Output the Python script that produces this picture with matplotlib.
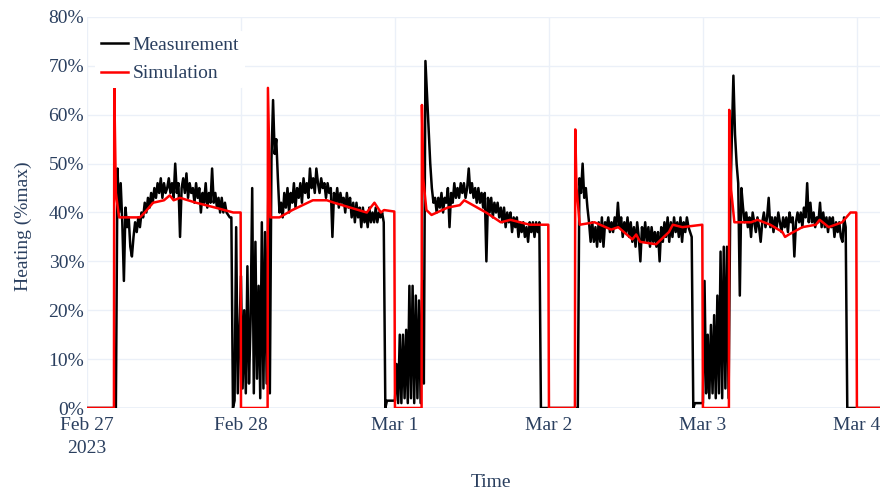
import pandas as pd
import matplotlib.pyplot as plt

# Measured heating (% of max), 15-minute samples, one list per day
meas_feb27 = [0, 0, 0, 0, 0, 0, 0, 0, 0, 0, 0, 0, 0, 0, 0, 0, 0, 0, 0,
              49, 40, 46, 38, 26, 41, 37, 39, 33, 31, 35, 38, 36, 39, 37, 40, 39, 42, 40, 43,
              41, 44, 42, 45, 43, 46, 44, 47, 43, 46, 44, 45, 47, 44, 46, 43, 50, 44, 46, 35,
              45, 47, 44, 48, 43, 46, 44, 45, 42, 46, 43, 45, 40, 44, 42, 46, 41, 44, 42, 49,
              42, 44, 41, 43, 40, 43, 40, 42, 40, 39.5, 39, 39, 0, 1.5, 37, 3]
meas_feb28 = [27, 4, 20, 3, 29, 5, 18, 45, 3, 34, 6, 25, 2, 38, 4, 36, 5, 43, 3, 51,
              63, 52, 55, 47, 40, 42, 39, 44, 41, 45, 40, 44, 42, 46, 41, 45, 43, 46, 42, 47,
              44, 46, 43, 49, 45, 47, 44, 49, 46, 44, 47, 45, 46, 43, 46, 44, 45, 35, 44, 42,
              45, 41, 44, 42, 43, 40, 44, 41, 43, 39, 42, 38, 42, 39, 41, 37, 41, 38, 40, 37,
              41, 38, 40, 38, 41, 38, 40, 39, 40, 38, 0, 1.5, 1.5, 1.5, 1.5, 1.5]
meas_mar1 = [1.5, 9, 1, 15, 1, 15, 2, 16, 1, 25, 2, 25, 1, 23, 2, 22, 1, 26, 5, 71,
             64, 57, 50, 45, 42, 43, 40, 43, 41, 44, 40, 43, 42, 45, 37, 44, 42, 46, 43, 45,
             43, 46, 44, 46, 43, 45, 49, 44, 46, 43, 45, 42, 45, 42, 44, 41, 44, 30, 43, 40,
             43, 39, 42, 40, 42, 39, 41, 38, 41, 37, 40, 38, 40, 36, 39, 37, 39, 35, 38, 36,
             38, 35, 37, 34, 38, 36, 38, 35, 38, 36, 38, 0, 0, 0, 0, 0]
meas_mar2 = [0, 0, 0, 0, 0, 0, 0, 0, 0, 0, 0, 0, 0, 0, 0, 0, 0, 0, 0,
             47, 44, 50, 43, 45, 41, 38, 34, 38, 34, 37, 33, 38, 34, 39, 33, 38, 37, 39, 36,
             38, 36, 39, 37, 42, 37, 39, 35, 38, 36, 39, 35, 38, 34, 37, 33, 38, 35, 30, 37,
             34, 38, 34, 37, 33, 37, 34, 36, 33, 36, 30, 37, 34, 38, 35, 39, 34, 38, 35, 39,
             36, 38, 35, 39, 34, 38, 36, 39, 37, 36, 35, 0, 1, 1, 1, 1, 1]
meas_mar3 = [1, 26, 3, 15, 2, 17, 3, 19, 2, 23, 3, 32, 2, 33, 4, 33, 2, 40, 55, 68,
             56, 50, 46, 23, 45, 41, 38, 40, 37, 39, 35, 40, 38, 36, 39, 37, 34, 38, 40, 37,
             39, 43, 37, 39, 36, 39, 37, 40, 38, 36, 39, 37, 39, 36, 40, 38, 39, 31, 38, 40,
             38, 40, 37, 41, 39, 46, 38, 42, 38, 40, 37, 39, 38, 42, 37, 40, 37, 39, 36, 39,
             37, 39, 35, 38, 36, 38, 35, 34, 39, 37, 0, 0, 0, 0, 0, 0]
meas_mar4 = [0, 0, 0, 0, 0, 0, 0, 0, 0, 0, 0, 0, 0, 0, 0, 0]
meas_days = ["2023-02-27", "2023-02-28", "2023-03-01", "2023-03-02", "2023-03-03", "2023-03-04"]

# Simulated heating: breakpoints (hours since Feb 27 00:00, % of max)
sim_hours = [0, 4.2, 4.25, 4.5, 5.0, 8.25, 9.0, 10.3, 12.0, 12.9, 13.5, 14.5, 17.0, 20.0, 22.8, 23.95,
             24.0, 28.15, 28.2, 28.6, 30.0, 32.0, 35.2, 37.4, 38.5, 43.6, 44.8, 45.8, 46.3, 47.9,
             48.0, 52.15, 52.2, 52.4, 52.9, 53.7, 56.2, 58.1, 58.8, 62.2, 64.5, 66.0, 69.0, 71.9,
             72.0, 76.05, 76.1, 76.3, 76.8, 79.1, 81.7, 82.8, 85.0, 85.6, 86.2, 88.7, 90.7, 91.3,
             92.8, 95.9,
             96.0, 100.05, 100.1, 100.4, 100.9, 103.5, 104.5, 106.5, 108.4, 108.8, 109.4, 111.5,
             113.6, 114.2, 115.6, 117.7, 119.0, 119.9, 120.0, 123.8]
sim_values = [0, 0, 65.5, 44, 39, 39, 40, 42, 42.5, 43.5, 42.5, 43, 42, 41, 40, 40,
              0, 0, 65.5, 39, 39, 40.5, 42.5, 42.5, 42, 40, 42, 40, 40.5, 40.2,
              0, 0, 62, 47, 40.5, 39.5, 41, 41.5, 42.5, 40, 38, 38.5, 37.5, 37.5,
              0, 0, 57, 45, 37.5, 38, 36.5, 37, 34.5, 35.5, 34, 33.5, 36, 37.5,
              37, 37.5,
              0, 0, 61, 44.6, 38, 38, 38.5, 37.5, 36, 35, 35.5, 37,
              37.5, 38.5, 37, 38, 40, 40, 0, 0]

day_ticks = ["2023-02-27", "2023-02-28", "2023-03-01", "2023-03-02", "2023-03-03", "2023-03-04"]
day_labels = ["Feb 27\n2023", "Feb 28", "Mar 1", "Mar 2", "Mar 3", "Mar 4"]
y_ticks = [0, 10, 20, 30, 40, 50, 60, 70, 80]

text_col = "#2a3f5f"
grid_col = "#ebf0f8"
plt.rcParams.update({"font.family": ["Liberation Serif", "DejaVu Serif"], "font.size": 14})

# assemble measurement series
meas_time, meas_val = [], []
for day, vals in zip(meas_days, [meas_feb27, meas_feb28, meas_mar1, meas_mar2, meas_mar3, meas_mar4]):
    meas_time += list(pd.date_range(day, periods=len(vals), freq="15min"))
    meas_val += vals

t0 = pd.Timestamp("2023-02-27")
sim_time = [t0 + pd.Timedelta(hours=h) for h in sim_hours]

fig = plt.figure(figsize=(8.82, 4.9), dpi=100)
ax = fig.add_axes([87 / 882, 82 / 490, 793 / 882, 391 / 490])

ax.plot(meas_time, meas_val, color="black", linewidth=1.8, label="Measurement", zorder=3)
ax.plot(sim_time, sim_values, color="red", linewidth=1.8, label="Simulation", zorder=4)

ax.set_xlim(t0, t0 + pd.Timedelta(hours=123.6))
ax.set_ylim(0, 80)

ax.set_xticks(pd.to_datetime(day_ticks))
ax.set_xticklabels(day_labels, color=text_col, linespacing=1.45)
ax.set_yticks(y_ticks)
ax.set_yticklabels([f"{v}%" for v in y_ticks], color=text_col)
ax.tick_params(axis="both", length=0)
ax.tick_params(axis="x", pad=6.5)
ax.tick_params(axis="y", pad=2)

ax.grid(True, color=grid_col, linewidth=1)
ax.set_axisbelow(True)
ax.axhline(0, color=grid_col, linewidth=2, zorder=1)
for s in ax.spines.values():
    s.set_visible(False)

ax.set_xlabel("Time", color=text_col)
ax.set_ylabel("Heating (%max)", color=text_col)
ax.xaxis.set_label_coords(0.509, -0.168)
ax.yaxis.set_label_coords(-0.069, 0.465)

leg = ax.legend(loc="upper left", bbox_to_anchor=(0.0, 0.985), frameon=True, facecolor="white",
                edgecolor="none", framealpha=1, handlelength=1.4, handletextpad=0.25,
                borderpad=0.3, labelspacing=0.55, borderaxespad=0.4)
for t in leg.get_texts():
    t.set_color(text_col)

fig.savefig("out.png", dpi=100)
